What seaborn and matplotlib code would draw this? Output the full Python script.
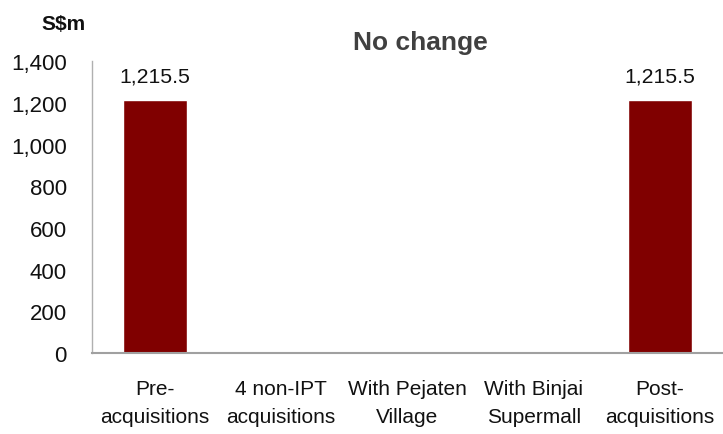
import matplotlib
matplotlib.use("Agg")
import matplotlib.pyplot as plt
import seaborn as sns
import pandas as pd

categories = ["Pre-\nacquisitions", "4 non-IPT\nacquisitions", "With Pejaten\nVillage",
              "With Binjai\nSupermall", "Post-\nacquisitions"]
values = [1215.5, 0, 0, 0, 1215.5]
labels = ["1,215.5", None, None, None, "1,215.5"]
yticks = [0, 200, 400, 600, 800, 1000, 1200, 1400]

sns.set_theme(style="white")
plt.rcParams["font.family"] = ["Liberation Sans", "DejaVu Sans"]

df = pd.DataFrame({"cat": categories, "val": values})

fig = plt.figure(figsize=(7.23, 4.35), dpi=100)
ax = fig.add_axes([0.127, 0.186, 0.873, 0.671])
sns.barplot(data=df, x="cat", y="val", color="#800000", width=0.51,
            saturation=1, ax=ax)

for i, (v, lab) in enumerate(zip(values, labels)):
    if lab:
        ax.text(i, v + 86, lab, ha="center", va="baseline", fontsize=15.3,
                color="#111111")

ax.set_ylim(0, 1400)
ax.set_xlim(-0.5, 4.5)
ax.set_yticks(yticks)
ax.set_yticklabels([f"{t:,}" for t in yticks], fontsize=16, color="#111111")
ax.set_xticks(range(len(categories)))
ax.set_xticklabels(categories, fontsize=15, color="#111111", linespacing=1.6)
ax.tick_params(axis="y", length=0, pad=18)
ax.tick_params(axis="x", length=0, pad=19)
ax.set_xlabel("")
ax.set_ylabel("")

for s in ["top", "right"]:
    ax.spines[s].set_visible(False)
ax.spines["left"].set_color("#b0b0b0")
ax.spines["bottom"].set_color("#a0a0a0")
ax.spines["left"].set_linewidth(1.0)
ax.spines["bottom"].set_linewidth(1.5)

fig.text(0.581, 0.901, "No change", ha="center", va="center", fontsize=19,
         fontweight="bold", color="#404040")
fig.text(0.088, 0.943, "S$m", ha="center", va="center", fontsize=15,
         fontweight="bold", color="#111111")

fig.savefig("out.png", dpi=100)
